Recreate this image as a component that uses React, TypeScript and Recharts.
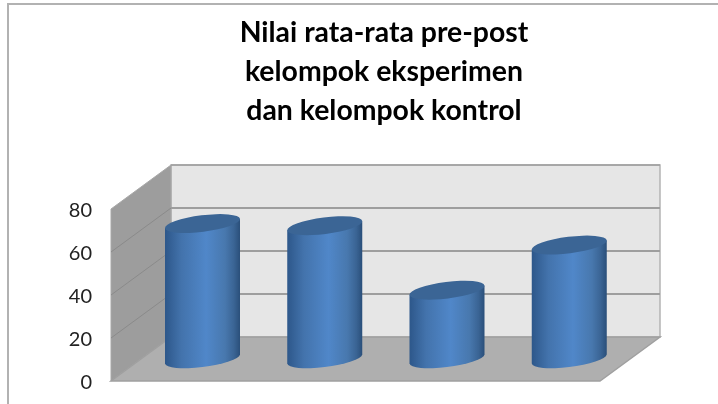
import { BarChart, Bar, XAxis, YAxis, ReferenceArea } from "recharts";

const categories = ["Pre eksperimen", "Post eksperimen", "Pre kontrol", "Post kontrol"];
const values = [63, 62, 32, 53];
const yTicks = [0, 20, 40, 60, 80];
const titleLines = [
  "Nilai rata-rata pre-post",
  "kelompok eksperimen",
  "dan kelompok kontrol",
];

const data = categories.map((name, i) => ({ name, value: values[i] }));

const DEPTH_X = 30;
const DEPTH_Y = 22;
const FONT = "Lato, 'Open Sans', sans-serif";

// side, back wall and floor of the 3d box, drawn around the plot rect
const Walls = ({ x, y, width, height }: any) => {
  const left = x - DEPTH_X;
  const right = x + width - DEPTH_X;
  const top = y + DEPTH_Y;
  const bottom = y + height + DEPTH_Y;
  const backLeft = x + DEPTH_X;
  const backRight = x + width + DEPTH_X;
  const backTop = y - DEPTH_Y;
  const backBottom = y + height - DEPTH_Y;
  return (
    <g>
      <polygon
        points={`${backLeft},${backTop} ${backRight},${backTop} ${backRight},${backBottom} ${backLeft},${backBottom}`}
        fill="#e6e6e6"
        stroke="#b4b4b4"
        strokeWidth={1.5}
      />
      <polygon
        points={`${left},${top} ${backLeft},${backTop} ${backLeft},${backBottom} ${left},${bottom}`}
        fill="#9d9d9d"
        stroke="#a8a8a8"
      />
      <polygon
        points={`${left},${bottom} ${backLeft},${backBottom} ${backRight},${backBottom} ${right},${bottom}`}
        fill="#afafaf"
        stroke="#a0a0a0"
        strokeWidth={1.5}
      />
      {yTicks.map((t) => {
        const dy = (height * t) / 80;
        return (
          <g key={t}>
            {t > 0 && (
              <line
                x1={backLeft}
                x2={backRight}
                y1={backBottom - dy}
                y2={backBottom - dy}
                stroke="#9e9e9e"
                strokeWidth={t === 80 ? 1.5 : 2}
              />
            )}
            {t > 0 && t < 80 && (
              <line
                x1={left}
                y1={bottom - dy}
                x2={backLeft}
                y2={backBottom - dy}
                stroke="#8a8a8a"
              />
            )}
          </g>
        );
      })}
    </g>
  );
};

const Cylinder = ({ x, y, width, height }: any) => {
  const cx = x + width / 2;
  const half = width / 2;
  const a = half * 1.008;
  const b = half * 0.221;
  const tilt = -7.2;
  const lift = half * 0.12;
  const bottom = y + height;
  const body = `M ${cx - half} ${y + lift} L ${cx - half} ${bottom + lift}
    A ${a} ${b} ${tilt} 0 0 ${cx + half} ${bottom - lift}
    L ${cx + half} ${y - lift} Z`;
  return (
    <g>
      <path d={body} fill="url(#cylinderBody)" />
      <ellipse
        cx={cx}
        cy={y}
        rx={a}
        ry={b}
        fill="#3b6595"
        transform={`rotate(${tilt} ${cx} ${y})`}
      />
    </g>
  );
};

const ShiftedTick = ({ x, y, payload }: any) => (
  <text
    x={x - 49}
    y={y + DEPTH_Y}
    textAnchor="end"
    dominantBaseline="central"
    fontFamily={FONT}
    fontSize={20}
    fill="#222"
  >
    {payload.value}
  </text>
);

const App = () => (
  <div
    style={{
      position: "absolute",
      left: 0,
      top: 0,
      width: 718,
      height: 404,
      background: "#fff",
      overflow: "hidden",
    }}
  >
    <div style={{ position: "absolute", inset: 0, filter: "blur(0.45px)" }}>
      <div
        style={{
          position: "absolute",
          left: 7,
          top: 3,
          width: 720,
          height: 410,
          borderLeft: "2px solid #b2b2b2",
          borderTop: "2px solid #b2b2b2",
        }}
      />
      <div
        style={{
          position: "absolute",
          left: 184,
          top: 12,
          width: 400,
          textAlign: "center",
          fontFamily: FONT,
          fontWeight: 700,
          fontSize: 28.4,
          lineHeight: "39px",
          color: "#000",
        }}
      >
        {titleLines.map((line) => (
          <div key={line}>{line}</div>
        ))}
      </div>
      <div style={{ position: "absolute", left: 0, top: 0 }}>
        <BarChart
          width={718}
          height={404}
          data={data}
          margin={{ top: 187, right: 88, bottom: 45, left: 91 }}
        >
          <defs>
            <linearGradient id="cylinderBody" x1="0" y1="0" x2="1" y2="0">
              <stop offset="0%" stopColor="#2d578a" />
              <stop offset="22%" stopColor="#4373ac" />
              <stop offset="55%" stopColor="#5087c9" />
              <stop offset="80%" stopColor="#4878ae" />
              <stop offset="92%" stopColor="#3a6494" />
              <stop offset="100%" stopColor="#2a4f7a" />
            </linearGradient>
          </defs>
          <XAxis dataKey="name" hide />
          <YAxis
            width={50}
            domain={[0, 80]}
            ticks={yTicks}
            axisLine={false}
            tickLine={false}
            tickSize={0}
            tickMargin={0}
            tick={ShiftedTick}
          />
          <ReferenceArea y1={0} y2={80} shape={Walls} />
          <Bar
            dataKey="value"
            barSize={75}
            shape={Cylinder}
            isAnimationActive={false}
          />
        </BarChart>
      </div>
    </div>
  </div>
);

export default App;
